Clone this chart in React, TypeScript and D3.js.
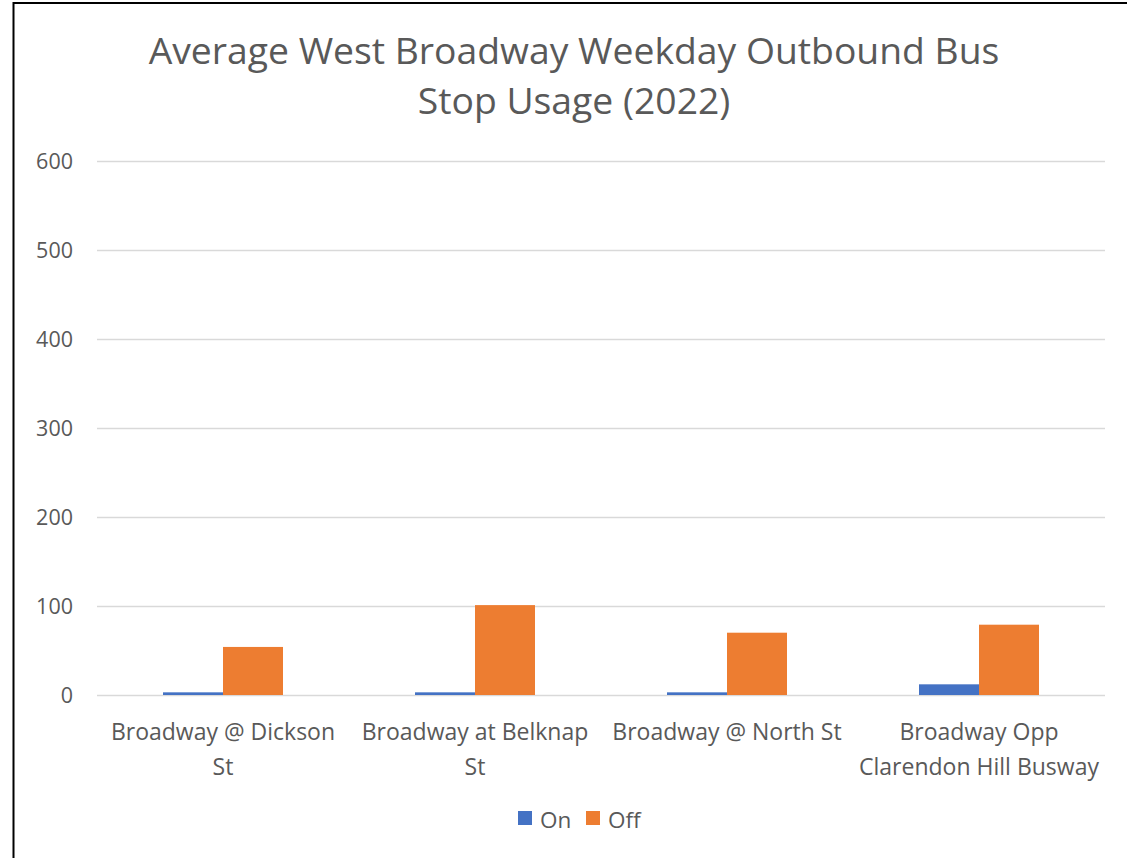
import React from "react";
import * as d3 from "d3";

const categories: string[][] = [
  ["Broadway @ Dickson", "St"],
  ["Broadway at Belknap", "St"],
  ["Broadway @ North St"],
  ["Broadway Opp", "Clarendon Hill Busway"],
];
const onValues = [3, 3, 3, 12];
const offValues = [54, 101, 70, 79];
const yTicks = [0, 100, 200, 300, 400, 500, 600];
const seriesNames = ["On", "Off"];
const colors = ["#4472C4", "#ED7D31"];
const titleLines = ["Average West Broadway Weekday Outbound Bus", "Stop Usage (2022)"];

const W = 1127;
const H = 858;
const FONT = "'Open Sans', 'Liberation Sans', sans-serif";
const TEXT = "#595959";

export default function App() {
  const left = 97;
  const right = 1105;
  const top = 161;
  const bottom = 695;
  const x = d3.scaleBand<number>().domain(d3.range(categories.length)).range([left, right]);
  const y = d3.scaleLinear().domain([0, 600]).range([bottom, top]);
  const barW = 60;
  const series = [onValues, offValues];

  return (
    <div style={{ position: "absolute", left: 0, top: 0 }}>
      <svg width={W} height={H} style={{ display: "block", background: "#fff" }}>
        <line x1={13.5} y1={3} x2={W} y2={3} stroke="#000" strokeWidth={2} />
        <line x1={13.5} y1={2} x2={13.5} y2={H} stroke="#000" strokeWidth={2} />
        {titleLines.map((t, i) => (
          <text key={i} x={574} y={64 + i * 50} textAnchor="middle" fontFamily={FONT} fontSize={37.3} fill={TEXT}>
            {t}
          </text>
        ))}
        {yTicks.map((t) => (
          <g key={t}>
            <line x1={left} x2={right} y1={Math.round(y(t)) + 0.5} y2={Math.round(y(t)) + 0.5} stroke="#D9D9D9" strokeWidth={1.5} />
            <text x={73} y={y(t)} dy="0.35em" textAnchor="end" fontFamily={FONT} fontSize={21.5} fill={TEXT}>
              {t}
            </text>
          </g>
        ))}
        {categories.map((_, ci) => {
          const cx = (x(ci) as number) + x.bandwidth() / 2;
          return series.map((vals, si) => (
            <rect
              key={`${ci}-${si}`}
              x={cx - barW + si * barW}
              y={y(vals[ci])}
              width={barW}
              height={y(0) - y(vals[ci])}
              fill={colors[si]}
            />
          ));
        })}
        {categories.map((lines, ci) => {
          const cx = (x(ci) as number) + x.bandwidth() / 2;
          return (
            <text key={ci} textAnchor="middle" fontFamily={FONT} fontSize={23} fill={TEXT}>
              {lines.map((l, li) => (
                <tspan key={li} x={cx} y={740 + li * 35}>
                  {l}
                </tspan>
              ))}
            </text>
          );
        })}
        {seriesNames.map((n, i) => {
          const lx = i === 0 ? 518 : 586;
          return (
            <g key={n}>
              <rect x={lx} y={811} width={14} height={14} fill={colors[i]} />
              <text x={lx + 22} y={828} fontFamily={FONT} fontSize={22.5} fill={TEXT}>
                {n}
              </text>
            </g>
          );
        })}
      </svg>
    </div>
  );
}
